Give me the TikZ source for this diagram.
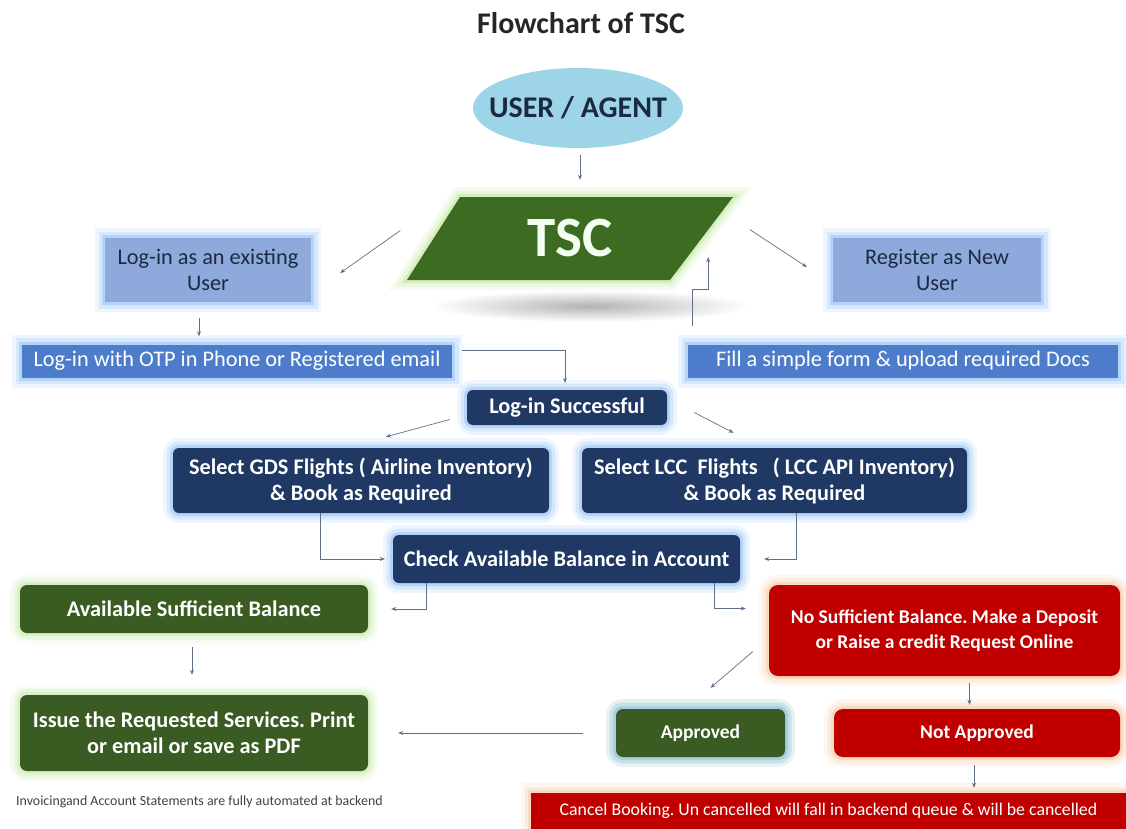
\documentclass[tikz,border=0pt]{standalone}
\usepackage{fontspec}
\setmainfont{Carlito}
\usetikzlibrary{arrows.meta, shapes.geometric, positioning}

\definecolor{skyfill}{HTML}{9DD4E8}
\definecolor{navytext}{HTML}{1B2A40}
\definecolor{tscgreen}{HTML}{3E6B22}
\definecolor{tscglow}{HTML}{BFE59B}
\definecolor{paleblue}{HTML}{8FA9DC}
\definecolor{midblue}{HTML}{4D7CCB}
\definecolor{navyfill}{HTML}{1F3864}
\definecolor{blueglow}{HTML}{8DBEF5}
\definecolor{okgreen}{HTML}{3A5C22}
\definecolor{greenglow}{HTML}{C2E8A8}
\definecolor{alertred}{HTML}{C00000}
\definecolor{peachglow}{HTML}{F8C4A0}
\definecolor{linkgray}{HTML}{5F6E8A}

\begin{document}
\frenchspacing
\begin{tikzpicture}[x=1pt, y=-1pt,
  halo/.style={preaction={draw=#1, line width=20pt, opacity=.15},
               preaction={draw=#1, line width=13pt, opacity=.25},
               preaction={draw=#1, line width=6pt, opacity=.45}},
  plainfont/.style={font=\fontsize{22.3}{26}\selectfont},
  boldfont/.style={font=\bfseries\fontsize{22.3}{26}\selectfont},
  smallbold/.style={font=\bfseries\fontsize{19.5}{25}\selectfont},
  lightbox/.style={fill=paleblue, text=navytext, plainfont, halo=blueglow, align=center, inner sep=0pt},
  midbox/.style={fill=midblue, text=white, plainfont, halo=blueglow, inner sep=0pt},
  navybox/.style={fill=navyfill, text=white, boldfont, rounded corners=6pt, halo=blueglow, align=center, inner sep=0pt},
  greenbox/.style={fill=okgreen, text=white, boldfont, rounded corners=7pt, halo=greenglow, align=center, inner sep=0pt},
  redbox/.style={fill=alertred, text=white, smallbold, rounded corners=9pt, halo=peachglow, align=center, inner sep=0pt},
  link/.style={draw=linkgray, line width=0.7pt, -{Stealth[length=5pt, width=4pt]}}]

\useasboundingbox (0,0) rectangle (1126,829);

\node[font=\bfseries\fontsize{30}{34}\selectfont, text=black!85] (title) at (581,23) {Flowchart of TSC};
\node[ellipse, fill=skyfill, text=navytext, minimum width=210pt, minimum height=80pt, inner sep=0pt,
  font=\bfseries\fontsize{30}{34}\selectfont] (user) at (578,108) {\makebox[0pt]{USER / AGENT}};

\shade[inner color=black!30, outer color=white] (590,306) ellipse [x radius=160, y radius=16];
\fill[tscgreen, halo=tscglow] (407,280) -- (460,197) -- (733,197) -- (670,280) -- cycle;
\node[minimum width=326pt, minimum height=83pt, inner sep=0pt, text=green!5!white,
  font=\bfseries\fontsize{57}{62}\selectfont] (tsc) at (570,238.5) {TSC};

\node[lightbox, minimum width=206pt, minimum height=64pt] (existing) at (208,270) {Log-in as an existing\\User};
\node[lightbox, minimum width=208pt, minimum height=64pt] (register) at (937,270) {Register as New\\User};
\node[midbox, minimum width=430pt, minimum height=33pt] (otp) at (237,361) {Log-in with OTP in Phone or Registered email};
\node[midbox, minimum width=430pt, minimum height=33pt] (fill) at (903,361) {Fill a simple form \& upload required Docs};
\node[navybox, minimum width=200pt, minimum height=35pt] (success) at (567,407.5) {Log-in Successful};
\node[navybox, minimum width=376pt, minimum height=65pt] (gds) at (361,480.5) {Select GDS Flights ( Airline Inventory)\\\& Book as Required};
\node[navybox, minimum width=385pt, minimum height=65pt] (lcc) at (774.5,480.5) {Select LCC~ Flights~~ ( LCC API Inventory)\\\& Book as Required};
\node[navybox, minimum width=347pt, minimum height=48pt] (check) at (566.5,559) {Check Available Balance in Account};
\node[greenbox, minimum width=348pt, minimum height=48pt] (available) at (194,609) {Available Sufficient Balance};
\node[greenbox, minimum width=348pt, minimum height=76pt] (issue) at (194,733) {Issue the Requested Services. Print\\or email or save as PDF};
\node[redbox, minimum width=351pt, minimum height=91pt] (nosuff) at (944.5,630.5) {No Sufficient Balance. Make a Deposit\\or Raise a credit Request Online};
\node[greenbox, smallbold, halo=blueglow, minimum width=169pt, minimum height=48pt] (approved) at (700.5,733) {Approved};
\node[redbox, minimum width=286pt, minimum height=48pt] (notapp) at (977,733) {Not Approved};
\node[redbox, rounded corners=0pt, font=\fontsize{17.8}{21}\selectfont, minimum width=595pt, minimum height=36pt] (cancel) at (828.5,811)
  {Cancel Booking. Un cancelled will fall in backend queue \& will be cancelled};
\node[anchor=west, text=black!75, font=\fontsize{13.9}{16}\selectfont, inner sep=0pt] (note) at (16,802)
  {Invoicingand Account Statements are fully automated at backend};

\draw[link] ([shift={(2,7)}]user.south) -- ([shift={(10,-17)}]tsc.north);
\draw[link] ([shift={(-6.5,-8)}]tsc.west) -- ([shift={(29,3)}]existing.east);
\draw[link] ([shift={(16.5,-9)}]tsc.east) -- ([shift={(-26,-3)}]register.west);
\draw[link] ([shift={(-9,16)}]existing.south) -- ([shift={(-38,-8)}]otp.north);
\draw[link] ([shift={(10,-11)}]otp.east) -| ([shift={(-2,-7)}]success.north);
\draw[link] ([shift={(5,-18)}]fill.north west) -- ++(0,-37) -| ([shift={(-25,-23)}]tsc.south east);
\draw[link] ([shift={(-17,12)}]success.west) -- ([shift={(25,-11)}]gds.north);
\draw[link] ([shift={(27,5)}]success.east) -- ([shift={(-41,-15)}]lcc.north);
\draw[link] ([xshift=-41pt]gds.south) |- ([xshift=-8pt]check.west);
\draw[link] ([xshift=21.5pt]lcc.south) |- ([xshift=24pt]check.east);
\draw[link] ([xshift=-140pt]check.south) |- ([xshift=23pt]available.east);
\draw[link] ([xshift=148pt]check.south) |- ([shift={(-23,-22)}]nosuff.west);
\draw[link] ([shift={(-2,14)}]available.south) -- ([shift={(-2,-20)}]issue.north);
\draw[link] ([shift={(-16,21)}]nosuff.west) -- ([shift={(10,-21)}]approved.north);
\draw[link] ([shift={(25,7)}]nosuff.south) -- ([shift={(-7.5,-4)}]notapp.north);
\draw[link] ([xshift=-33pt]approved.west) -- ([xshift=30pt]issue.east);
\draw[link] ([shift={(-3,8)}]notapp.south) -- ([shift={(145.5,-5)}]cancel.north);
\end{tikzpicture}
\end{document}
